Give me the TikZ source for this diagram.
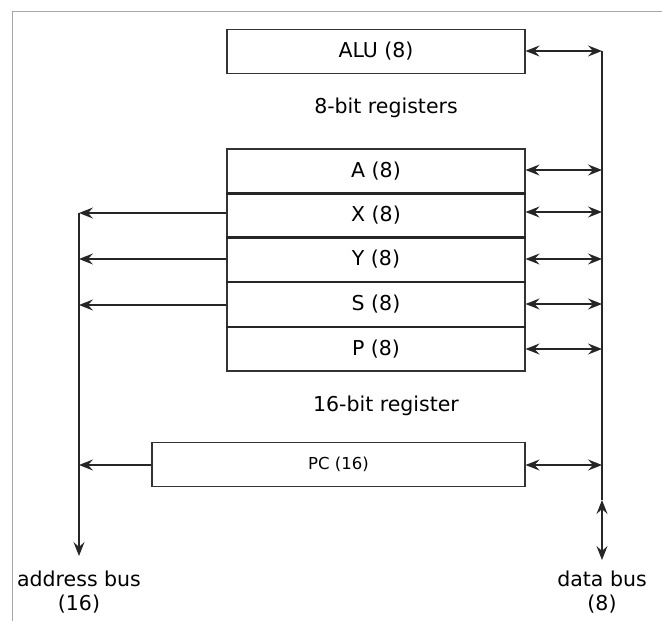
\documentclass[tikz,border=0pt]{standalone}
\usepackage{fontspec}
\setmainfont{DejaVu Sans}
\usetikzlibrary{arrows.meta}
\begin{document}
\begin{tikzpicture}[x=1pt,y=-1pt,
  box/.style={draw=black!80,line width=1.1pt,minimum width=298pt,minimum height=44pt,inner sep=0pt,font=\fontsize{20.5}{24}\selectfont},
  lbl/.style={font=\fontsize{20.5}{24}\selectfont,inner sep=0pt},
  conn/.style={line width=1.1pt,draw=black!85},
  tip/.style={-{Stealth[length=14pt,width=11pt,inset=5pt]}},
  dtip/.style={{Stealth[length=14pt,width=11pt,inset=5pt]}-{Stealth[length=14pt,width=11pt,inset=5pt]}}]
\useasboundingbox (0,0) rectangle (662,621);
\fill[white] (0,0) rectangle (662,621);
\draw[black!35,line width=1pt] (12,621) -- (12,11) -- (662,11);
% boxes
\node[box] (alu) at (376,51.5) {ALU (8)};
\node[lbl] (t8) at (386,108) {8-bit registers};
\node[box] (A) at (376,171) {A (8)};
\node[box] (X) at (376,215) {X (8)};
\node[box] (Y) at (376,259.5) {Y (8)};
\node[box] (S) at (376,304.5) {S (8)};
\node[box] (P) at (376,349) {P (8)};
\foreach \n/\m in {A/X,X/Y,Y/S,S/P}{\draw[black!85,line width=2.2pt] (\n.south west) -- (\n.south east);}
\node[lbl] (t16) at (386,406) {16-bit register};
\node[box,minimum width=373pt,font=\fontsize{16.5}{19}\selectfont] (pc) at (338.5,464.5) {PC (16)};
% data bus
\coordinate (dtop) at (602,51);
\coordinate (djoin) at (602,500);
\coordinate (dbot) at (602,560);
\draw[conn] (dtop) -- (djoin);
\draw[conn,dtip] (djoin) -- (dbot);
\foreach \n/\yy in {alu/51,A/170,X/212,Y/259,S/304,P/349,pc/465}{
  \coordinate (r\n) at (602,\yy);
  \draw[conn,dtip] (\n.east |- r\n) -- (r\n);
}
% address bus
\coordinate (atop) at (79,213);
\coordinate (abot) at (79,556);
\draw[conn,tip] (atop) -- (abot);
\foreach \n/\yy in {X/213,Y/259,S/305,pc/465}{
  \coordinate (l\n) at (79,\yy);
  \draw[conn,tip] (\n.west |- l\n) -- (l\n);
}
\node[lbl,align=center] (ab) at (79,592) {address bus\\[0pt](16)};
\node[lbl,align=center] (db) at (602,592) {data bus\\[0pt](8)};
\end{tikzpicture}
\end{document}
